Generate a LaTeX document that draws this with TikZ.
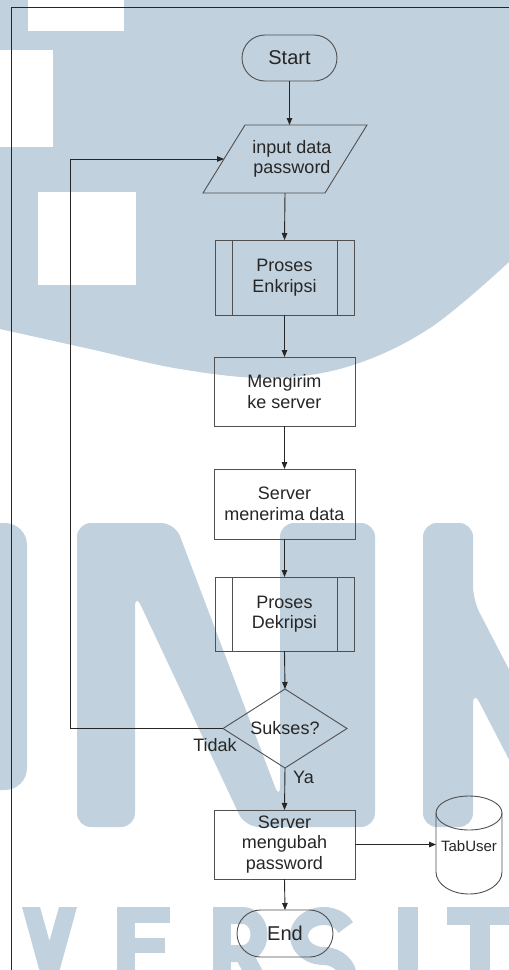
\documentclass[tikz,border=0pt]{standalone}
\usepackage{fontspec}
\setmainfont{Liberation Sans}
\usetikzlibrary{shapes.geometric,shapes.misc,arrows.meta,calc}

\definecolor{wm}{RGB}{193,209,221}
\definecolor{edge}{RGB}{80,80,80}
\definecolor{ink}{RGB}{38,38,38}

\begin{document}
\begin{tikzpicture}[x=1pt,y=-1pt,
  every node/.style={text=ink, inner sep=0pt, outer sep=0pt},
  txt/.style={font=\fontsize{18}{20.5}\selectfont, align=center},
  box/.style={txt, draw=edge, line width=0.9pt, rectangle, minimum width=141pt, minimum height=69pt},
  subproc/.style={box, minimum width=139pt},
  term/.style={draw=edge, line width=0.9pt, rounded rectangle, font=\fontsize{20}{22}\selectfont},
  io/.style={txt, rectangle, minimum width=122pt, minimum height=68pt},
  decide/.style={txt, draw=edge, line width=0.9pt, diamond, aspect=1.57, minimum width=124pt, minimum height=79pt},
  flow/.style={draw=ink, line width=0.9pt, -{Triangle[length=7pt,width=5.5pt]}},
  sideline/.style={draw=edge, line width=0.9pt},
  frame/.style={draw=ink, line width=1pt},
]
\useasboundingbox (0,0) rectangle (509,970);

% ---------- watermark ----------
\fill[wm] (0,0) -- (509,0) -- (509,262)
  -- plot[smooth, tension=0.6] coordinates {(509,262) (430,328) (350,366) (270,378) (180,369) (90,349) (0,329)}
  -- cycle;
\fill[white] (28,0) rectangle (124,31);
\fill[white] (0,50) rectangle (53,147);
\fill[white] (38,192) rectangle (136,285);

\fill[wm, rounded corners=22pt] (-40,523) rectangle (27,790);
\fill[wm, rounded corners=14pt] (77,827) -- (77,523) -- (175,523) -- (280,800) -- (280,523)
  -- (375,523) -- (375,827) -- (245,827) -- (135,593) -- (135,827) -- cycle;
\fill[wm, rounded corners=14pt] (423,827) -- (423,523) -- (473,523) -- (473,600) -- (530,710)
  -- (530,800) -- (473,690) -- (473,827) -- cycle;

\fill[wm] (22,907) -- (40,907) -- (49.5,941) -- (59,907) -- (77,907) -- (49.5,1007) -- cycle;
\fill[wm] (117,907) rectangle (135,1000);
\fill[wm] (117,907) rectangle (170,923);
\fill[wm] (117,938) rectangle (165,953);
\fill[wm] (213,907) rectangle (231,1000);
\draw[wm, line width=17pt] (222,915.5) -- (243,915.5)
  arc[start angle=-90, end angle=90, x radius=16, y radius=19] -- (222,953.5);
\draw[wm, line width=18pt] (243,953) -- (268,1000);
\draw[wm, line width=18pt] (345.7,927.5)
  arc[start angle=-25, end angle=-270, x radius=24.5, y radius=20]
  arc[start angle=-90, end angle=155, x radius=24.5, y radius=22];
\fill[wm] (398,907) rectangle (418,1000);
\fill[wm] (447,907) rectangle (515,925);
\fill[wm] (470,907) rectangle (490,1000);

% ---------- frame ----------
\draw[frame] (11,975) -- (11,7) -- (515,7);

% ---------- flowchart ----------
\node[term, minimum width=95pt, minimum height=46pt] (start) at (289.5,58) {Start};
\node[io] (inp) at (285,159) {\hspace*{14pt}input data\\\hspace*{14pt}password};
\node[subproc, minimum height=75pt] (enc) at (284.5,277.5) {Proses\\Enkripsi};
\node[box] (send) at (284.5,391.5) {Mengirim\\ke server};
\node[box, minimum height=70pt] (recv) at (284.5,504) {Server\\menerima data};
\node[subproc, minimum height=74pt] (dec) at (284.5,614) {Proses\\Dekripsi};
\node[decide] (ok) at (285,728.5) {Sukses?};
\node[box] (upd) at (284.5,844.5) {Server\\mengubah\\password};
\node[term, minimum width=96pt, minimum height=47pt] (end) at (285,933.5) {End};
\node[minimum width=66pt, minimum height=20pt, font=\fontsize{15}{17}\selectfont] (tab) at (469,846) {TabUser};

% slanted input/output outline
\draw[sideline] ([xshift=21pt]inp.north west) -- ([xshift=21pt]inp.north east)
  -- ([xshift=-21pt]inp.south east) -- ([xshift=-21pt]inp.south west) -- cycle;

% double side bars of the predefined processes
\foreach \p in {enc,dec}{
  \draw[sideline] ([xshift=17pt]\p.north west) -- ([xshift=17pt]\p.south west);
  \draw[sideline] ([xshift=-17pt]\p.north east) -- ([xshift=-17pt]\p.south east);
}

% data store cylinder around the TabUser label
\draw[sideline] (436,813) -- (436,872)
  arc[start angle=180, end angle=0, x radius=33, y radius=22] -- (502,813);
\draw[sideline] (469,813) ellipse[x radius=33, y radius=17];

% connectors
\coordinate (lx) at (70,0);
\draw[flow] (start.south) -- (start.south |- inp.north);
\draw[flow] (inp.south) -- (enc.north);
\draw[flow] (enc.south) -- (send.north);
\draw[flow] (send.south) -- (recv.north);
\draw[flow] (recv.south) -- (dec.north);
\draw[flow] (dec.south) -- (ok.north);
\draw[flow] (ok.south) -- (upd.north);
\draw[flow] (upd.south) -- (end.north);
\draw[flow] (upd.east) -- (upd.east -| tab.west);
\draw[flow] (ok.west) -- (ok.west -| lx) |- (inp.west);

\node[txt] (tidak) at ($(ok.west)+(-8,16.5)$) {Tidak};
\node[txt] (ya) at ($(ok.south)+(18.5,9.5)$) {Ya};
\end{tikzpicture}
\end{document}
